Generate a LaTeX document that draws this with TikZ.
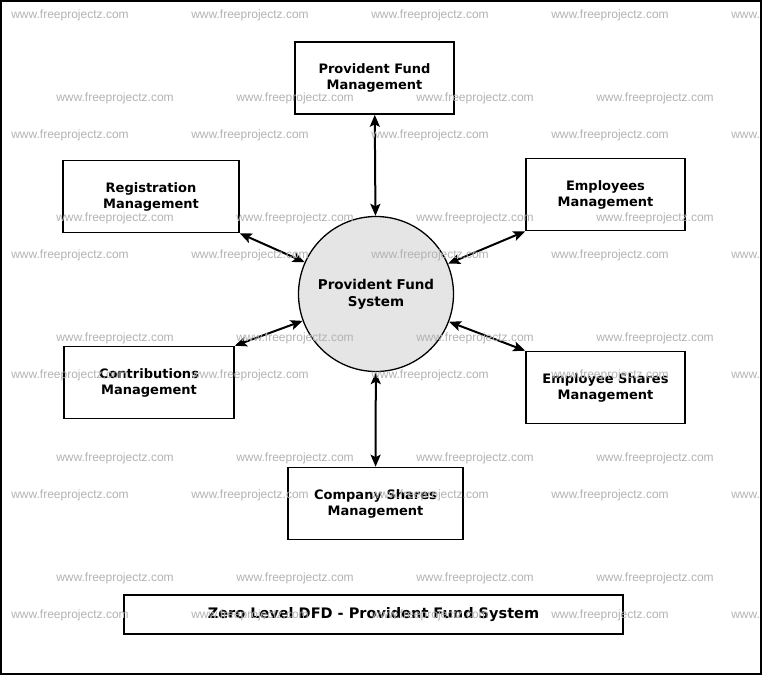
\documentclass[tikz,border=0pt]{standalone}
\usepackage{fontspec}
\setmainfont{DejaVu Sans}
\newfontfamily\wmfont{Liberation Sans}
\usetikzlibrary{arrows.meta}

\begin{document}
\begin{tikzpicture}[
    x=1pt, y=-1pt,
    box/.style={draw, line width=1.6pt, minimum width=159pt, minimum height=72pt, align=center, inner sep=2pt, font=\fontsize{13}{16}\selectfont\bfseries},
    proc/.style={draw, circle, line width=1.3pt, fill=gray!20, minimum size=155pt, align=center, font=\fontsize{13.5}{17}\selectfont\bfseries},
    arrow/.style={{Stealth[length=12pt,width=10pt,inset=2.5pt]}-{Stealth[length=12pt,width=10pt,inset=2.5pt]}, line width=2pt},
    wmark/.style={font=\wmfont\fontsize{12}{12}\selectfont, text=black!30, inner sep=0pt}
]
  \useasboundingbox (0,0) rectangle (764,677);

  % Outer frame
  \draw[line width=2.4pt] (1.2,1.2) rectangle (761,674);

  % Central process
  \node[proc] (sys) at (376,294) {Provident Fund\\System};

  % External entities
  \node[box] (pfm) at (374.5,78) {Provident Fund\\Management};
  \node[box, minimum width=176pt] (reg) at (151,196.5) {Registration\\Management};
  \node[box] (emp) at (605.5,194.5) {Employees\\Management};
  \node[box, minimum width=170pt] (con) at (149,382.5) {Contributions\\Management};
  \node[box] (esh) at (605.5,387.5) {Employee Shares\\Management};
  \node[box, minimum width=175pt] (csh) at (375.5,503.5) {Company Shares\\Management};

  % Title
  \node[box, minimum width=499pt, minimum height=39pt, font=\fontsize{14.5}{17}\selectfont\bfseries] (title) at (373.5,614.5) {Zero Level DFD - Provident Fund System};

  % Data flows
  \draw[arrow] (pfm) -- (sys);
  \draw[arrow] (reg.south east) -- (sys);
  \draw[arrow] (emp.south west) -- (sys);
  \draw[arrow] (con.north east) -- (sys);
  \draw[arrow] (esh.north west) -- (sys);
  \draw[arrow] (sys) -- (csh);

  % Watermark
  \begin{scope}
    \clip (2.4,2.4) rectangle (759.8,672.8);
    \foreach \y in {15,135,...,615}
      \foreach \x in {70,250,430,610,790}
        \node[wmark] (wa-\x-\y) at (\x,\y) {www.freeprojectz.com};
    \foreach \y in {98,218,...,578}
      \foreach \x in {115,295,475,655}
        \node[wmark] (wb-\x-\y) at (\x,\y) {www.freeprojectz.com};
  \end{scope}
\end{tikzpicture}
\end{document}
